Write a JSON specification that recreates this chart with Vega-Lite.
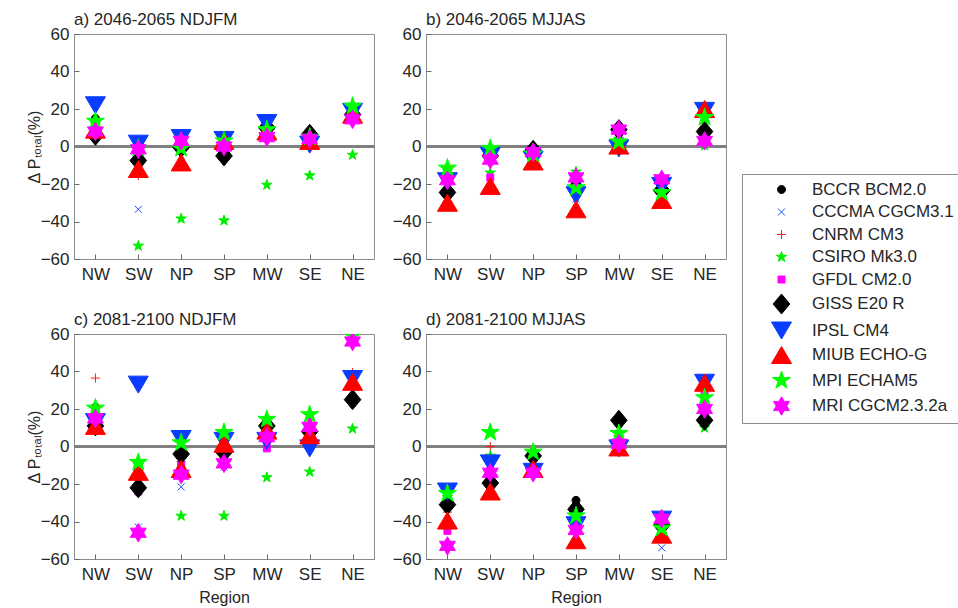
{
  "$schema": "https://vega.github.io/schema/vega-lite/v6.json",
  "padding": {"left": 25, "top": 10, "right": 0, "bottom": 0},
  "datasets": {
    "d": [
      {"p":"a","r":"NW","m":"BCCR BCM2.0","v":15},{"p":"a","r":"SW","m":"BCCR BCM2.0","v":-7},{"p":"a","r":"NP","m":"BCCR BCM2.0","v":0},{"p":"a","r":"SP","m":"BCCR BCM2.0","v":-4},{"p":"a","r":"MW","m":"BCCR BCM2.0","v":10},{"p":"a","r":"SE","m":"BCCR BCM2.0","v":5},{"p":"a","r":"NE","m":"BCCR BCM2.0","v":17},
      {"p":"b","r":"NW","m":"BCCR BCM2.0","v":-24},{"p":"b","r":"SW","m":"BCCR BCM2.0","v":-6},{"p":"b","r":"NP","m":"BCCR BCM2.0","v":-3},{"p":"b","r":"SP","m":"BCCR BCM2.0","v":-21},{"p":"b","r":"MW","m":"BCCR BCM2.0","v":8},{"p":"b","r":"SE","m":"BCCR BCM2.0","v":-22},{"p":"b","r":"NE","m":"BCCR BCM2.0","v":7},
      {"p":"c","r":"NW","m":"BCCR BCM2.0","v":21},{"p":"c","r":"SW","m":"BCCR BCM2.0","v":-23},{"p":"c","r":"NP","m":"BCCR BCM2.0","v":-3},{"p":"c","r":"SP","m":"BCCR BCM2.0","v":-2},{"p":"c","r":"MW","m":"BCCR BCM2.0","v":12},{"p":"c","r":"SE","m":"BCCR BCM2.0","v":8.6},{"p":"c","r":"NE","m":"BCCR BCM2.0","v":27},
      {"p":"d","r":"NW","m":"BCCR BCM2.0","v":-30},{"p":"d","r":"SW","m":"BCCR BCM2.0","v":-19},{"p":"d","r":"NP","m":"BCCR BCM2.0","v":-5},{"p":"d","r":"SP","m":"BCCR BCM2.0","v":-28.7},{"p":"d","r":"MW","m":"BCCR BCM2.0","v":12},{"p":"d","r":"SE","m":"BCCR BCM2.0","v":-41},{"p":"d","r":"NE","m":"BCCR BCM2.0","v":15},

      {"p":"a","r":"NW","m":"CCCMA CGCM3.1","v":9},{"p":"a","r":"SW","m":"CCCMA CGCM3.1","v":-33.5},{"p":"a","r":"NP","m":"CCCMA CGCM3.1","v":2},{"p":"a","r":"SP","m":"CCCMA CGCM3.1","v":-6},{"p":"a","r":"MW","m":"CCCMA CGCM3.1","v":11},{"p":"a","r":"SE","m":"CCCMA CGCM3.1","v":3},{"p":"a","r":"NE","m":"CCCMA CGCM3.1","v":19},
      {"p":"b","r":"NW","m":"CCCMA CGCM3.1","v":-20},{"p":"b","r":"SW","m":"CCCMA CGCM3.1","v":-6},{"p":"b","r":"NP","m":"CCCMA CGCM3.1","v":-9},{"p":"b","r":"SP","m":"CCCMA CGCM3.1","v":-28},{"p":"b","r":"MW","m":"CCCMA CGCM3.1","v":0},{"p":"b","r":"SE","m":"CCCMA CGCM3.1","v":-31},{"p":"b","r":"NE","m":"CCCMA CGCM3.1","v":17},
      {"p":"c","r":"NW","m":"CCCMA CGCM3.1","v":14},{"p":"c","r":"SW","m":"CCCMA CGCM3.1","v":-43},{"p":"c","r":"NP","m":"CCCMA CGCM3.1","v":-21.5},{"p":"c","r":"SP","m":"CCCMA CGCM3.1","v":-11},{"p":"c","r":"MW","m":"CCCMA CGCM3.1","v":4},{"p":"c","r":"SE","m":"CCCMA CGCM3.1","v":3},{"p":"c","r":"NE","m":"CCCMA CGCM3.1","v":35},
      {"p":"d","r":"NW","m":"CCCMA CGCM3.1","v":-28},{"p":"d","r":"SW","m":"CCCMA CGCM3.1","v":-10},{"p":"d","r":"NP","m":"CCCMA CGCM3.1","v":-13},{"p":"d","r":"SP","m":"CCCMA CGCM3.1","v":-41},{"p":"d","r":"MW","m":"CCCMA CGCM3.1","v":0},{"p":"d","r":"SE","m":"CCCMA CGCM3.1","v":-54},{"p":"d","r":"NE","m":"CCCMA CGCM3.1","v":33},

      {"p":"a","r":"NW","m":"CNRM CM3","v":11},{"p":"a","r":"SW","m":"CNRM CM3","v":-15.5},{"p":"a","r":"NP","m":"CNRM CM3","v":-3},{"p":"a","r":"SP","m":"CNRM CM3","v":2},{"p":"a","r":"MW","m":"CNRM CM3","v":9},{"p":"a","r":"SE","m":"CNRM CM3","v":4},{"p":"a","r":"NE","m":"CNRM CM3","v":18},
      {"p":"b","r":"NW","m":"CNRM CM3","v":-22},{"p":"b","r":"SW","m":"CNRM CM3","v":-8},{"p":"b","r":"NP","m":"CNRM CM3","v":-6},{"p":"b","r":"SP","m":"CNRM CM3","v":-25},{"p":"b","r":"MW","m":"CNRM CM3","v":1},{"p":"b","r":"SE","m":"CNRM CM3","v":-27},{"p":"b","r":"NE","m":"CNRM CM3","v":18},
      {"p":"c","r":"NW","m":"CNRM CM3","v":36.5},{"p":"c","r":"SW","m":"CNRM CM3","v":-15},{"p":"c","r":"NP","m":"CNRM CM3","v":-8},{"p":"c","r":"SP","m":"CNRM CM3","v":2},{"p":"c","r":"MW","m":"CNRM CM3","v":6},{"p":"c","r":"SE","m":"CNRM CM3","v":7},{"p":"c","r":"NE","m":"CNRM CM3","v":39.5},
      {"p":"d","r":"NW","m":"CNRM CM3","v":-35},{"p":"d","r":"SW","m":"CNRM CM3","v":0},{"p":"d","r":"NP","m":"CNRM CM3","v":-10},{"p":"d","r":"SP","m":"CNRM CM3","v":-40},{"p":"d","r":"MW","m":"CNRM CM3","v":2},{"p":"d","r":"SE","m":"CNRM CM3","v":-45},{"p":"d","r":"NE","m":"CNRM CM3","v":32},

      {"p":"a","r":"NW","m":"CSIRO Mk3.0","v":12},{"p":"a","r":"SW","m":"CSIRO Mk3.0","v":-53},{"p":"a","r":"NP","m":"CSIRO Mk3.0","v":-38.5},{"p":"a","r":"SP","m":"CSIRO Mk3.0","v":-39.5},{"p":"a","r":"MW","m":"CSIRO Mk3.0","v":-20.5},{"p":"a","r":"SE","m":"CSIRO Mk3.0","v":-15.5},{"p":"a","r":"NE","m":"CSIRO Mk3.0","v":-4.5},
      {"p":"b","r":"NW","m":"CSIRO Mk3.0","v":-13},{"p":"b","r":"SW","m":"CSIRO Mk3.0","v":-14},{"p":"b","r":"NP","m":"CSIRO Mk3.0","v":-5},{"p":"b","r":"SP","m":"CSIRO Mk3.0","v":-13.5},{"p":"b","r":"MW","m":"CSIRO Mk3.0","v":4},{"p":"b","r":"SE","m":"CSIRO Mk3.0","v":-25},{"p":"b","r":"NE","m":"CSIRO Mk3.0","v":0.5},
      {"p":"c","r":"NW","m":"CSIRO Mk3.0","v":15},{"p":"c","r":"SW","m":"CSIRO Mk3.0","v":-10},{"p":"c","r":"NP","m":"CSIRO Mk3.0","v":-37},{"p":"c","r":"SP","m":"CSIRO Mk3.0","v":-37},{"p":"c","r":"MW","m":"CSIRO Mk3.0","v":-16.5},{"p":"c","r":"SE","m":"CSIRO Mk3.0","v":-13.5},{"p":"c","r":"NE","m":"CSIRO Mk3.0","v":9.5},
      {"p":"d","r":"NW","m":"CSIRO Mk3.0","v":-27},{"p":"d","r":"SW","m":"CSIRO Mk3.0","v":-5},{"p":"d","r":"NP","m":"CSIRO Mk3.0","v":-4},{"p":"d","r":"SP","m":"CSIRO Mk3.0","v":-35},{"p":"d","r":"MW","m":"CSIRO Mk3.0","v":5},{"p":"d","r":"SE","m":"CSIRO Mk3.0","v":-44},{"p":"d","r":"NE","m":"CSIRO Mk3.0","v":10},

      {"p":"a","r":"NW","m":"GFDL CM2.0","v":10},{"p":"a","r":"SW","m":"GFDL CM2.0","v":-2},{"p":"a","r":"NP","m":"GFDL CM2.0","v":2},{"p":"a","r":"SP","m":"GFDL CM2.0","v":-2},{"p":"a","r":"MW","m":"GFDL CM2.0","v":6},{"p":"a","r":"SE","m":"GFDL CM2.0","v":4},{"p":"a","r":"NE","m":"GFDL CM2.0","v":15},
      {"p":"b","r":"NW","m":"GFDL CM2.0","v":-31},{"p":"b","r":"SW","m":"GFDL CM2.0","v":-16.5},{"p":"b","r":"NP","m":"GFDL CM2.0","v":-4},{"p":"b","r":"SP","m":"GFDL CM2.0","v":-20},{"p":"b","r":"MW","m":"GFDL CM2.0","v":3},{"p":"b","r":"SE","m":"GFDL CM2.0","v":-20},{"p":"b","r":"NE","m":"GFDL CM2.0","v":5},
      {"p":"c","r":"NW","m":"GFDL CM2.0","v":13},{"p":"c","r":"SW","m":"GFDL CM2.0","v":-24},{"p":"c","r":"NP","m":"GFDL CM2.0","v":-10},{"p":"c","r":"SP","m":"GFDL CM2.0","v":-7},{"p":"c","r":"MW","m":"GFDL CM2.0","v":-1},{"p":"c","r":"SE","m":"GFDL CM2.0","v":6},{"p":"c","r":"NE","m":"GFDL CM2.0","v":33},
      {"p":"d","r":"NW","m":"GFDL CM2.0","v":-45},{"p":"d","r":"SW","m":"GFDL CM2.0","v":-13},{"p":"d","r":"NP","m":"GFDL CM2.0","v":-12},{"p":"d","r":"SP","m":"GFDL CM2.0","v":-52},{"p":"d","r":"MW","m":"GFDL CM2.0","v":1},{"p":"d","r":"SE","m":"GFDL CM2.0","v":-40},{"p":"d","r":"NE","m":"GFDL CM2.0","v":28},

      {"p":"a","r":"NW","m":"GISS E20 R","v":6},{"p":"a","r":"SW","m":"GISS E20 R","v":-7.5},{"p":"a","r":"NP","m":"GISS E20 R","v":-0.5},{"p":"a","r":"SP","m":"GISS E20 R","v":-5},{"p":"a","r":"MW","m":"GISS E20 R","v":10},{"p":"a","r":"SE","m":"GISS E20 R","v":6.5},{"p":"a","r":"NE","m":"GISS E20 R","v":17},
      {"p":"b","r":"NW","m":"GISS E20 R","v":-24.5},{"p":"b","r":"SW","m":"GISS E20 R","v":-5},{"p":"b","r":"NP","m":"GISS E20 R","v":-2},{"p":"b","r":"SP","m":"GISS E20 R","v":-22},{"p":"b","r":"MW","m":"GISS E20 R","v":9},{"p":"b","r":"SE","m":"GISS E20 R","v":-23.5},{"p":"b","r":"NE","m":"GISS E20 R","v":8},
      {"p":"c","r":"NW","m":"GISS E20 R","v":11},{"p":"c","r":"SW","m":"GISS E20 R","v":-22},{"p":"c","r":"NP","m":"GISS E20 R","v":-4},{"p":"c","r":"SP","m":"GISS E20 R","v":-3},{"p":"c","r":"MW","m":"GISS E20 R","v":11},{"p":"c","r":"SE","m":"GISS E20 R","v":8},{"p":"c","r":"NE","m":"GISS E20 R","v":25},
      {"p":"d","r":"NW","m":"GISS E20 R","v":-31},{"p":"d","r":"SW","m":"GISS E20 R","v":-19.5},{"p":"d","r":"NP","m":"GISS E20 R","v":-5},{"p":"d","r":"SP","m":"GISS E20 R","v":-33.5},{"p":"d","r":"MW","m":"GISS E20 R","v":14},{"p":"d","r":"SE","m":"GISS E20 R","v":-42},{"p":"d","r":"NE","m":"GISS E20 R","v":14},

      {"p":"a","r":"NW","m":"IPSL CM4","v":22},{"p":"a","r":"SW","m":"IPSL CM4","v":1.5},{"p":"a","r":"NP","m":"IPSL CM4","v":4.5},{"p":"a","r":"SP","m":"IPSL CM4","v":3.5},{"p":"a","r":"MW","m":"IPSL CM4","v":12.5},{"p":"a","r":"SE","m":"IPSL CM4","v":1},{"p":"a","r":"NE","m":"IPSL CM4","v":18.5},
      {"p":"b","r":"NW","m":"IPSL CM4","v":-18.5},{"p":"b","r":"SW","m":"IPSL CM4","v":-5},{"p":"b","r":"NP","m":"IPSL CM4","v":-7},{"p":"b","r":"SP","m":"IPSL CM4","v":-26},{"p":"b","r":"MW","m":"IPSL CM4","v":-1},{"p":"b","r":"SE","m":"IPSL CM4","v":-21},{"p":"b","r":"NE","m":"IPSL CM4","v":19},
      {"p":"c","r":"NW","m":"IPSL CM4","v":13},{"p":"c","r":"SW","m":"IPSL CM4","v":33},{"p":"c","r":"NP","m":"IPSL CM4","v":4},{"p":"c","r":"SP","m":"IPSL CM4","v":3},{"p":"c","r":"MW","m":"IPSL CM4","v":3},{"p":"c","r":"SE","m":"IPSL CM4","v":-1},{"p":"c","r":"NE","m":"IPSL CM4","v":36},
      {"p":"d","r":"NW","m":"IPSL CM4","v":-24},{"p":"d","r":"SW","m":"IPSL CM4","v":-9},{"p":"d","r":"NP","m":"IPSL CM4","v":-13.5},{"p":"d","r":"SP","m":"IPSL CM4","v":-42},{"p":"d","r":"MW","m":"IPSL CM4","v":-1},{"p":"d","r":"SE","m":"IPSL CM4","v":-39},{"p":"d","r":"NE","m":"IPSL CM4","v":34},

      {"p":"a","r":"NW","m":"MIUB ECHO-G","v":9},{"p":"a","r":"SW","m":"MIUB ECHO-G","v":-12},{"p":"a","r":"NP","m":"MIUB ECHO-G","v":-8.5},{"p":"a","r":"SP","m":"MIUB ECHO-G","v":3},{"p":"a","r":"MW","m":"MIUB ECHO-G","v":8},{"p":"a","r":"SE","m":"MIUB ECHO-G","v":3},{"p":"a","r":"NE","m":"MIUB ECHO-G","v":17},
      {"p":"b","r":"NW","m":"MIUB ECHO-G","v":-30},{"p":"b","r":"SW","m":"MIUB ECHO-G","v":-21},{"p":"b","r":"NP","m":"MIUB ECHO-G","v":-8},{"p":"b","r":"SP","m":"MIUB ECHO-G","v":-33.5},{"p":"b","r":"MW","m":"MIUB ECHO-G","v":0.5},{"p":"b","r":"SE","m":"MIUB ECHO-G","v":-28.5},{"p":"b","r":"NE","m":"MIUB ECHO-G","v":20},
      {"p":"c","r":"NW","m":"MIUB ECHO-G","v":11},{"p":"c","r":"SW","m":"MIUB ECHO-G","v":-13.5},{"p":"c","r":"NP","m":"MIUB ECHO-G","v":-12},{"p":"c","r":"SP","m":"MIUB ECHO-G","v":1.5},{"p":"c","r":"MW","m":"MIUB ECHO-G","v":8.5},{"p":"c","r":"SE","m":"MIUB ECHO-G","v":6},{"p":"c","r":"NE","m":"MIUB ECHO-G","v":34.5},
      {"p":"d","r":"NW","m":"MIUB ECHO-G","v":-39.5},{"p":"d","r":"SW","m":"MIUB ECHO-G","v":-24},{"p":"d","r":"NP","m":"MIUB ECHO-G","v":-12},{"p":"d","r":"SP","m":"MIUB ECHO-G","v":-50},{"p":"d","r":"MW","m":"MIUB ECHO-G","v":-0.5},{"p":"d","r":"SE","m":"MIUB ECHO-G","v":-47},{"p":"d","r":"NE","m":"MIUB ECHO-G","v":34},

      {"p":"a","r":"NW","m":"MPI ECHAM5","v":13.5},{"p":"a","r":"SW","m":"MPI ECHAM5","v":-1},{"p":"a","r":"NP","m":"MPI ECHAM5","v":-1},{"p":"a","r":"SP","m":"MPI ECHAM5","v":3},{"p":"a","r":"MW","m":"MPI ECHAM5","v":9},{"p":"a","r":"SE","m":"MPI ECHAM5","v":5},{"p":"a","r":"NE","m":"MPI ECHAM5","v":21.5},
      {"p":"b","r":"NW","m":"MPI ECHAM5","v":-11.5},{"p":"b","r":"SW","m":"MPI ECHAM5","v":-1},{"p":"b","r":"NP","m":"MPI ECHAM5","v":-4},{"p":"b","r":"SP","m":"MPI ECHAM5","v":-22},{"p":"b","r":"MW","m":"MPI ECHAM5","v":2.5},{"p":"b","r":"SE","m":"MPI ECHAM5","v":-24.5},{"p":"b","r":"NE","m":"MPI ECHAM5","v":15.5},
      {"p":"c","r":"NW","m":"MPI ECHAM5","v":20.5},{"p":"c","r":"SW","m":"MPI ECHAM5","v":-8.5},{"p":"c","r":"NP","m":"MPI ECHAM5","v":2},{"p":"c","r":"SP","m":"MPI ECHAM5","v":7.5},{"p":"c","r":"MW","m":"MPI ECHAM5","v":14.5},{"p":"c","r":"SE","m":"MPI ECHAM5","v":17},{"p":"c","r":"NE","m":"MPI ECHAM5","v":59},
      {"p":"d","r":"NW","m":"MPI ECHAM5","v":-25},{"p":"d","r":"SW","m":"MPI ECHAM5","v":7.5},{"p":"d","r":"NP","m":"MPI ECHAM5","v":-3},{"p":"d","r":"SP","m":"MPI ECHAM5","v":-37},{"p":"d","r":"MW","m":"MPI ECHAM5","v":7},{"p":"d","r":"SE","m":"MPI ECHAM5","v":-43.5},{"p":"d","r":"NE","m":"MPI ECHAM5","v":26},

      {"p":"a","r":"NW","m":"MRI CGCM2.3.2a","v":8},{"p":"a","r":"SW","m":"MRI CGCM2.3.2a","v":-1.5},{"p":"a","r":"NP","m":"MRI CGCM2.3.2a","v":3},{"p":"a","r":"SP","m":"MRI CGCM2.3.2a","v":0},{"p":"a","r":"MW","m":"MRI CGCM2.3.2a","v":5},{"p":"a","r":"SE","m":"MRI CGCM2.3.2a","v":4},{"p":"a","r":"NE","m":"MRI CGCM2.3.2a","v":14.5},
      {"p":"b","r":"NW","m":"MRI CGCM2.3.2a","v":-18},{"p":"b","r":"SW","m":"MRI CGCM2.3.2a","v":-7},{"p":"b","r":"NP","m":"MRI CGCM2.3.2a","v":-3},{"p":"b","r":"SP","m":"MRI CGCM2.3.2a","v":-16.5},{"p":"b","r":"MW","m":"MRI CGCM2.3.2a","v":9},{"p":"b","r":"SE","m":"MRI CGCM2.3.2a","v":-17.5},{"p":"b","r":"NE","m":"MRI CGCM2.3.2a","v":3},
      {"p":"c","r":"NW","m":"MRI CGCM2.3.2a","v":15},{"p":"c","r":"SW","m":"MRI CGCM2.3.2a","v":-46},{"p":"c","r":"NP","m":"MRI CGCM2.3.2a","v":-15},{"p":"c","r":"SP","m":"MRI CGCM2.3.2a","v":-9},{"p":"c","r":"MW","m":"MRI CGCM2.3.2a","v":5},{"p":"c","r":"SE","m":"MRI CGCM2.3.2a","v":10.5},{"p":"c","r":"NE","m":"MRI CGCM2.3.2a","v":56},
      {"p":"d","r":"NW","m":"MRI CGCM2.3.2a","v":-53},{"p":"d","r":"SW","m":"MRI CGCM2.3.2a","v":-14},{"p":"d","r":"NP","m":"MRI CGCM2.3.2a","v":-14},{"p":"d","r":"SP","m":"MRI CGCM2.3.2a","v":-44.5},{"p":"d","r":"MW","m":"MRI CGCM2.3.2a","v":1.5},{"p":"d","r":"SE","m":"MRI CGCM2.3.2a","v":-38.5},{"p":"d","r":"NE","m":"MRI CGCM2.3.2a","v":20}
    ]
  },
  "columns": 2,
  "align": "each",
  "spacing": {"column": 15, "row": 27},
  "concat": [
    {
      "width": 300, "height": 225,
      "title": "a) 2046-2065 NDJFM",
      "data": {"name": "d"},
      "transform": [{"filter": "datum.p === 'a'"}],
      "layer": [
        {"mark": {"type": "rule", "color": "#808080", "strokeWidth": 2}, "encoding": {"y": {"datum": 0, "type": "quantitative", "scale": {"domain": [-60, 60], "nice": false}, "axis": {"title": "Δ Pₜₒₜₐₗ(%)", "values": [-60,-40,-20,0,20,40,60]}}}},
        {"mark": {"type": "point", "filled": true, "opacity": 1, "size": 400, "strokeWidth": 1, "clip": true}, "encoding": {
          "x": {"field": "r", "type": "nominal", "sort": ["NW","SW","NP","SP","MW","SE","NE"], "axis": {"title": null}},
          "y": {"field": "v", "type": "quantitative", "scale": {"domain": [-60, 60], "nice": false}, "axis": {"title": "Δ Pₜₒₜₐₗ(%)", "values": [-60,-40,-20,0,20,40,60]}},
          "fill": {"field": "m", "type": "nominal", "scale": {"domain": ["BCCR BCM2.0","CCCMA CGCM3.1","CNRM CM3","CSIRO Mk3.0","GFDL CM2.0","GISS E20 R","IPSL CM4","MIUB ECHO-G","MPI ECHAM5","MRI CGCM2.3.2a"], "range": ["#000000","#1a4dff","#ff1a1a","#00ee00","#ff00ff","#000000","#0a3cff","#ff0000","#00ff00","#ff00ff"]}},
          "stroke": {"field": "m", "type": "nominal", "scale": {"domain": ["BCCR BCM2.0","CCCMA CGCM3.1","CNRM CM3","CSIRO Mk3.0","GFDL CM2.0","GISS E20 R","IPSL CM4","MIUB ECHO-G","MPI ECHAM5","MRI CGCM2.3.2a"], "range": ["#000000","#1a4dff","#ff1a1a","#00ee00","#ff00ff","#000000","#0a3cff","#ff0000","#00ff00","#ff00ff"]}},
          "shape": {"field": "m", "type": "nominal", "scale": {"domain": ["BCCR BCM2.0","CCCMA CGCM3.1","CNRM CM3","CSIRO Mk3.0","GFDL CM2.0","GISS E20 R","IPSL CM4","MIUB ECHO-G","MPI ECHAM5","MRI CGCM2.3.2a"], "range": [
            "M-0.4,0A0.4,0.4,0,1,1,0.4,0A0.4,0.4,0,1,1,-0.4,0Z",
            "M-0.35,-0.35L0.35,0.35M-0.35,0.35L0.35,-0.35",
            "M-0.45,0L0.45,0M0,-0.45L0,0.45",
            "M0,-0.55L0.1235,-0.17L0.5231,-0.17L0.1998,0.0649L0.3233,0.445L0,0.2101L-0.3233,0.445L-0.1998,0.0649L-0.5231,-0.17L-0.1235,-0.17Z",
            "M-0.35,-0.35L0.35,-0.35L0.35,0.35L-0.35,0.35Z",
            "M0,-1L0.83,0L0,1L-0.83,0Z",
            "M-1,-0.85L1,-0.85L0,0.85Z",
            "M-1,0.85L1,0.85L0,-0.85Z",
            "M0,-0.95L0.2133,-0.2936L0.9035,-0.2936L0.3451,0.1121L0.5584,0.7686L0,0.3629L-0.5584,0.7686L-0.3451,0.1121L-0.9035,-0.2936L-0.2133,-0.2936Z",
            "M0,-0.92L0.2656,-0.46L0.7967,-0.46L0.531,0L0.7967,0.46L0.2656,0.46L0,0.92L-0.2656,0.46L-0.7967,0.46L-0.531,0L-0.7967,-0.46L-0.2656,-0.46Z"
          ]}}
        }}
      ]
    },
    {
      "width": 300, "height": 225,
      "title": "b) 2046-2065 MJJAS",
      "data": {"name": "d"},
      "transform": [{"filter": "datum.p === 'b'"}],
      "layer": [
        {"mark": {"type": "rule", "color": "#808080", "strokeWidth": 2}, "encoding": {"y": {"datum": 0, "type": "quantitative", "scale": {"domain": [-60, 60], "nice": false}, "axis": {"title": null, "values": [-60,-40,-20,0,20,40,60]}}}},
        {"mark": {"type": "point", "filled": true, "opacity": 1, "size": 400, "strokeWidth": 1, "clip": true}, "encoding": {
          "x": {"field": "r", "type": "nominal", "sort": ["NW","SW","NP","SP","MW","SE","NE"], "axis": {"title": null}},
          "y": {"field": "v", "type": "quantitative", "scale": {"domain": [-60, 60], "nice": false}, "axis": {"title": null, "values": [-60,-40,-20,0,20,40,60]}},
          "fill": {"field": "m", "type": "nominal"},
          "stroke": {"field": "m", "type": "nominal"},
          "shape": {"field": "m", "type": "nominal"}
        }}
      ]
    },
    {
      "width": 300, "height": 225,
      "title": "c) 2081-2100 NDJFM",
      "data": {"name": "d"},
      "transform": [{"filter": "datum.p === 'c'"}],
      "layer": [
        {"mark": {"type": "rule", "color": "#808080", "strokeWidth": 2}, "encoding": {"y": {"datum": 0, "type": "quantitative", "scale": {"domain": [-60, 60], "nice": false}, "axis": {"title": "Δ Pₜₒₜₐₗ(%)", "values": [-60,-40,-20,0,20,40,60]}}}},
        {"mark": {"type": "point", "filled": true, "opacity": 1, "size": 400, "strokeWidth": 1, "clip": true}, "encoding": {
          "x": {"field": "r", "type": "nominal", "sort": ["NW","SW","NP","SP","MW","SE","NE"], "axis": {"title": "Region"}},
          "y": {"field": "v", "type": "quantitative", "scale": {"domain": [-60, 60], "nice": false}, "axis": {"title": "Δ Pₜₒₜₐₗ(%)", "values": [-60,-40,-20,0,20,40,60]}},
          "fill": {"field": "m", "type": "nominal"},
          "stroke": {"field": "m", "type": "nominal"},
          "shape": {"field": "m", "type": "nominal"}
        }}
      ]
    },
    {
      "width": 300, "height": 225,
      "title": "d) 2081-2100 MJJAS",
      "data": {"name": "d"},
      "transform": [{"filter": "datum.p === 'd'"}],
      "layer": [
        {"mark": {"type": "rule", "color": "#808080", "strokeWidth": 2}, "encoding": {"y": {"datum": 0, "type": "quantitative", "scale": {"domain": [-60, 60], "nice": false}, "axis": {"title": null, "values": [-60,-40,-20,0,20,40,60]}}}},
        {"mark": {"type": "point", "filled": true, "opacity": 1, "size": 400, "strokeWidth": 1, "clip": true}, "encoding": {
          "x": {"field": "r", "type": "nominal", "sort": ["NW","SW","NP","SP","MW","SE","NE"], "axis": {"title": "Region"}},
          "y": {"field": "v", "type": "quantitative", "scale": {"domain": [-60, 60], "nice": false}, "axis": {"title": null, "values": [-60,-40,-20,0,20,40,60]}},
          "fill": {"field": "m", "type": "nominal"},
          "stroke": {"field": "m", "type": "nominal"},
          "shape": {"field": "m", "type": "nominal"}
        }}
      ]
    }
  ],
  "config": {
    "font": "Liberation Sans",
    "view": {"stroke": "#8c8c8c", "strokeWidth": 1},
    "axis": {"domain": false, "grid": false, "labelFontSize": 17, "labelColor": "#262626", "tickColor": "#666666", "tickSize": -5, "labelPadding": 10, "titleFontSize": 16, "titleFontWeight": "normal", "titleColor": "#262626", "titlePadding": 2},
    "axisX": {"labelAngle": 0, "labelPadding": 12, "titlePadding": 7},
    "axisY": {"titlePadding": -2},
    "title": {"anchor": "start", "frame": "group", "fontSize": 17, "fontWeight": "normal", "color": "#262626", "offset": -4},
    "legend": {"orient": "none", "legendX": 668, "legendY": 140, "title": null, "strokeColor": "#8c8c8c", "padding": 5, "symbolOffset": 24, "labelOffset": 20, "rowPadding": 3.5, "labelFontSize": 17, "labelColor": "#262626", "symbolSize": 400, "symbolStrokeWidth": 1, "labelLimit": 400}
  }
}
